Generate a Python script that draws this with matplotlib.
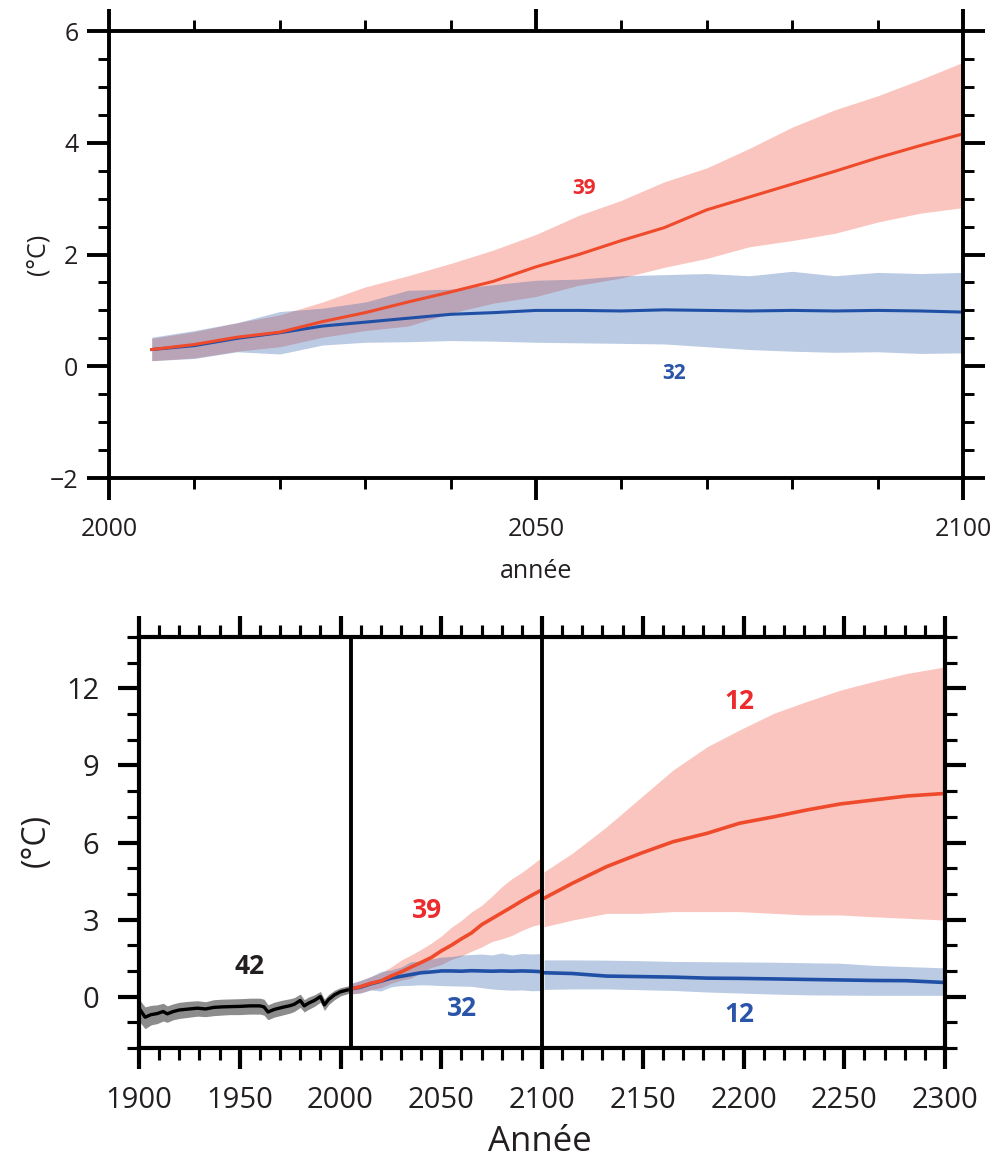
import matplotlib
matplotlib.use('Agg')
import matplotlib.pyplot as plt
from matplotlib.ticker import MultipleLocator
from matplotlib import font_manager

names = {f.name for f in font_manager.fontManager.ttflist}
FONT = 'Open Sans' if 'Open Sans' in names else 'DejaVu Sans'
plt.rcParams['font.family'] = [FONT, 'DejaVu Sans']
plt.rcParams['axes.unicode_minus'] = True

# ---------------- data ----------------
# 2006-2100 projections (39 / 32 models)
proj_years = [2005, 2010, 2015, 2020, 2025, 2030, 2035, 2040, 2045, 2050,
              2055, 2060, 2065, 2070, 2075, 2080, 2085, 2090, 2095, 2100]
red_mean = [0.30, 0.39, 0.52, 0.61, 0.80, 0.96, 1.15, 1.33, 1.52, 1.78,
            2.00, 2.25, 2.48, 2.80, 3.03, 3.26, 3.49, 3.73, 3.95, 4.16]
red_lo = [0.10, 0.15, 0.27, 0.35, 0.52, 0.64, 0.72, 0.95, 1.13, 1.25,
          1.45, 1.58, 1.77, 1.93, 2.14, 2.25, 2.38, 2.58, 2.74, 2.84]
red_hi = [0.50, 0.62, 0.78, 0.92, 1.15, 1.42, 1.62, 1.84, 2.08, 2.36,
          2.70, 2.97, 3.30, 3.55, 3.90, 4.28, 4.59, 4.84, 5.13, 5.44]
blue_mean = [0.30, 0.37, 0.50, 0.60, 0.72, 0.79, 0.86, 0.93, 0.96, 1.00,
             1.00, 0.99, 1.01, 1.00, 0.99, 1.00, 0.99, 1.00, 0.99, 0.97]
blue_lo = [0.10, 0.14, 0.26, 0.22, 0.38, 0.43, 0.44, 0.46, 0.45, 0.43,
           0.42, 0.41, 0.40, 0.35, 0.30, 0.27, 0.25, 0.26, 0.23, 0.24]
blue_hi = [0.52, 0.64, 0.78, 0.98, 1.04, 1.15, 1.36, 1.38, 1.46, 1.54,
           1.56, 1.62, 1.64, 1.66, 1.62, 1.70, 1.62, 1.68, 1.66, 1.68]

# historical 1900-2005 (42 models)
hist_years = [1900, 1903, 1906, 1909, 1912, 1914, 1917, 1920, 1925, 1929, 1933,
              1937, 1941, 1945, 1950, 1955, 1960, 1962, 1964, 1967, 1971, 1975,
              1977, 1980, 1982, 1984, 1987, 1990, 1992, 1994, 1997, 2000, 2005]
hist_mean = [-0.45, -0.80, -0.70, -0.66, -0.58, -0.67, -0.58, -0.52, -0.48, -0.45, -0.48,
             -0.42, -0.40, -0.39, -0.38, -0.36, -0.36, -0.40, -0.60, -0.50, -0.42, -0.35,
             -0.30, -0.15, -0.36, -0.26, -0.15, 0.00, -0.32, -0.12, 0.07, 0.19, 0.29]
hist_lo = [-0.95, -1.25, -1.10, -1.05, -0.95, -1.00, -0.90, -0.85, -0.80, -0.76, -0.78,
           -0.74, -0.72, -0.70, -0.70, -0.68, -0.68, -0.72, -0.90, -0.80, -0.72, -0.64,
           -0.58, -0.42, -0.60, -0.50, -0.38, -0.22, -0.54, -0.32, -0.12, 0.03, 0.15]
hist_hi = [-0.10, -0.40, -0.34, -0.32, -0.26, -0.36, -0.28, -0.22, -0.18, -0.16, -0.20,
           -0.12, -0.10, -0.09, -0.08, -0.06, -0.06, -0.10, -0.32, -0.22, -0.14, -0.08,
           -0.04, 0.10, -0.12, -0.02, 0.07, 0.20, -0.10, 0.08, 0.25, 0.35, 0.44]

# extension 2101-2300 (12 models)
ext_years = [2101, 2115, 2132, 2149, 2165, 2182, 2198, 2215, 2231, 2248, 2264, 2281, 2300]
red_ext_mean = [3.83, 4.41, 5.06, 5.58, 6.03, 6.36, 6.75, 7.00, 7.26, 7.50, 7.65, 7.81, 7.91]
red_ext_lo = [2.72, 2.98, 3.24, 3.24, 3.31, 3.31, 3.31, 3.24, 3.18, 3.18, 3.11, 3.05, 2.98]
red_ext_hi = [4.86, 5.58, 6.61, 7.75, 8.82, 9.73, 10.38, 11.03, 11.48, 11.93, 12.26, 12.58, 12.84]
blue_ext_mean = [0.93, 0.90, 0.80, 0.78, 0.76, 0.72, 0.71, 0.69, 0.67, 0.65, 0.63, 0.62, 0.55]
blue_ext_lo = [0.28, 0.30, 0.30, 0.27, 0.24, 0.18, 0.14, 0.10, 0.07, 0.06, 0.05, 0.05, 0.05]
blue_ext_hi = [1.43, 1.43, 1.42, 1.40, 1.37, 1.36, 1.35, 1.34, 1.32, 1.30, 1.22, 1.17, 1.12]

# ---------------- style ----------------
RED_LINE = '#EE4A2B'
RED_FILL = '#F0462E'
RED_A = 0.31
BLUE_LINE = '#1F50A5'
BLUE_FILL = '#285AAA'
BLUE_A = 0.315
RED_TXT = '#EC2B2E'
BLUE_TXT = '#2A55A8'
TXT = '#231F20'

fig = plt.figure(figsize=(9.91, 11.62), dpi=100)
ax1 = fig.add_axes([0.110, 0.5886, 0.8617, 0.3847])
ax2 = fig.add_axes([0.1403, 0.0981, 0.8133, 0.3537])


def style(ax, lw, maj_len, min_len, xpad, ypad, fs):
    for s in ax.spines.values():
        s.set_linewidth(lw)
        s.set_zorder(10)
    ax.tick_params(which='both', direction='out', top=True, right=True,
                   colors='black', labelcolor=TXT, labelsize=fs)
    ax.tick_params(which='major', length=maj_len, width=lw)
    ax.tick_params(which='minor', length=min_len, width=lw * 0.75)
    ax.tick_params(axis='x', which='major', pad=xpad)
    ax.tick_params(axis='y', which='major', pad=ypad)


# ---------- top panel ----------
ax1.fill_between(proj_years, red_lo, red_hi, color=RED_FILL, alpha=RED_A, lw=0, zorder=2)
ax1.fill_between(proj_years, blue_lo, blue_hi, color=BLUE_FILL, alpha=BLUE_A, lw=0, zorder=3)
ax1.plot(proj_years, blue_mean, color=BLUE_LINE, lw=2.2, zorder=4)
ax1.plot(proj_years, red_mean, color=RED_LINE, lw=2.2, zorder=5)
ax1.set_xlim(2000, 2100)
ax1.set_ylim(-2, 6)
ax1.xaxis.set_major_locator(MultipleLocator(50))
ax1.xaxis.set_minor_locator(MultipleLocator(10))
ax1.yaxis.set_major_locator(MultipleLocator(2))
ax1.yaxis.set_minor_locator(MultipleLocator(0.5))
style(ax1, 2.8, 16, 8, 12, 6, 18)
ax1.set_xlabel('année', fontsize=18, color=TXT)
ax1.xaxis.set_label_coords(0.5, -0.21)
ax1.xaxis.label.set_va('center')
ax1.set_ylabel('(°C)', fontsize=18, color=TXT)
ax1.yaxis.set_label_coords(-0.083, 0.5)
ax1.yaxis.label.set_va('center')
ax1.text(2055.6, 3.18, '39', color=RED_TXT, fontsize=15, fontweight='bold',
         ha='center', va='center', zorder=6)
ax1.text(2066.2, -0.13, '32', color=BLUE_TXT, fontsize=15, fontweight='bold',
         ha='center', va='center', zorder=6)

# ---------- bottom panel ----------
ax2.fill_between(hist_years, hist_lo, hist_hi, color='#8C8C8C', lw=0, zorder=2)
ax2.plot(hist_years, hist_mean, color='black', lw=2.4, zorder=4)
ax2.fill_between(proj_years, red_lo, red_hi, color=RED_FILL, alpha=RED_A, lw=0, zorder=2)
ax2.fill_between(proj_years, blue_lo, blue_hi, color=BLUE_FILL, alpha=BLUE_A, lw=0, zorder=3)
ax2.fill_between(ext_years, red_ext_lo, red_ext_hi, color=RED_FILL, alpha=RED_A, lw=0, zorder=2)
ax2.fill_between(ext_years, blue_ext_lo, blue_ext_hi, color=BLUE_FILL, alpha=BLUE_A, lw=0, zorder=3)
ax2.plot(proj_years, blue_mean, color=BLUE_LINE, lw=2.6, zorder=4)
ax2.plot(proj_years, red_mean, color=RED_LINE, lw=2.6, zorder=5)
ax2.plot(ext_years, blue_ext_mean, color=BLUE_LINE, lw=2.6, zorder=4)
ax2.plot(ext_years, red_ext_mean, color=RED_LINE, lw=2.6, zorder=5)
ax2.axvline(2005, color='black', lw=2.8, zorder=7)
ax2.axvline(2100, color='black', lw=2.8, zorder=7)
ax2.set_xlim(1900, 2300)
ax2.set_ylim(-2, 14)
ax2.xaxis.set_major_locator(MultipleLocator(50))
ax2.xaxis.set_minor_locator(MultipleLocator(10))
ax2.yaxis.set_major_locator(MultipleLocator(3))
ax2.yaxis.set_minor_locator(MultipleLocator(1))
style(ax2, 3.0, 15, 8.5, 12, 13.5, 21)
ax2.set_xlabel('Année', fontsize=25, color=TXT)
ax2.xaxis.set_label_coords(0.4975, -0.229)
ax2.xaxis.label.set_va('center')
ax2.set_ylabel('(°C)', fontsize=23, color=TXT)
ax2.yaxis.set_label_coords(-0.128, 0.504)
ax2.yaxis.label.set_va('center')
ann_fs = 19
ax2.text(1955.1, 1.16, '42', color=TXT, fontsize=ann_fs, fontweight='bold', ha='center', va='center', zorder=8)
ax2.text(2042.8, 3.35, '39', color=RED_TXT, fontsize=ann_fs, fontweight='bold', ha='center', va='center', zorder=8)
ax2.text(2060.1, -0.45, '32', color=BLUE_TXT, fontsize=ann_fs, fontweight='bold', ha='center', va='center', zorder=8)
ax2.text(2197.9, 11.48, '12', color=RED_TXT, fontsize=ann_fs, fontweight='bold', ha='center', va='center', zorder=8)
ax2.text(2197.9, -0.71, '12', color=BLUE_TXT, fontsize=ann_fs, fontweight='bold', ha='center', va='center', zorder=8)

fig.savefig('out.png', dpi=100)
